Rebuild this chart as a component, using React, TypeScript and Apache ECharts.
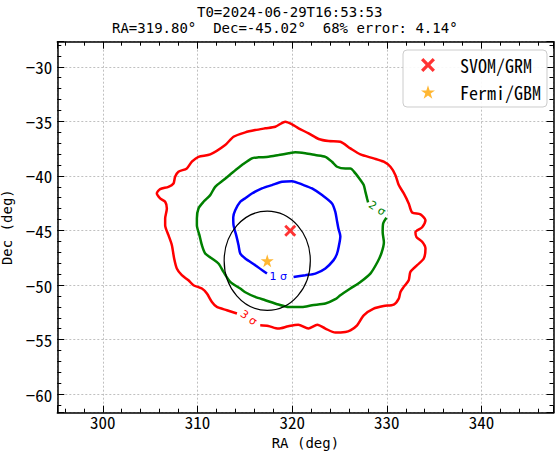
import React, { useEffect, useRef } from "react";
import * as echarts from "echarts";

const TITLE_LINE1 = "T0=2024-06-29T16:53:53";
const TITLE_LINE2 = "RA=319.80°  Dec=-45.02°  68% error: 4.14°";

const X_RANGE = [295.2, 347.6];
const Y_RANGE = [-61.7, -27.7];

const SVOM_POS: [number, number] = [319.8, -45.02];
const FERMI_POS: [number, number] = [317.37, -47.78];
const FERMI_RADIUS = 4.55;

// 1 sigma contour (blue)
const sigma1: [number, number][] = [
  [317.34, -48.95], [316.1, -48.18], [315.05, -47.57], [314.52, -47.11], [314.34, -46.35],
  [314.09, -45.43], [313.81, -44.51], [313.78, -43.78], [313.99, -43.14], [314.52, -42.37],
  [315.05, -42.04], [315.75, -41.61], [316.81, -41.15], [317.87, -40.84], [318.93, -40.54],
  [319.98, -40.48], [321.21, -40.84], [322.1, -41.15], [323.16, -41.76], [324.21, -42.52],
  [324.56, -43.29], [324.72, -44.05], [324.88, -44.79], [325.09, -45.52], [324.93, -46.44],
  [324.72, -47.17], [324.38, -47.72], [323.51, -48.48], [322.45, -48.95], [321.39, -49.1],
  [320.15, -49.26],
];

// 2 sigma contour (green)
const sigma2: [number, number][] = [
  [329.96, -43.83], [329.61, -44.36], [329.56, -45.16], [329.69, -46.08], [329.43, -47.08],
  [329.0, -47.91], [328.26, -48.95], [327.21, -49.72], [326.15, -50.32], [325.09, -50.94],
  [324.56, -51.3], [323.51, -51.7], [322.1, -51.85], [321.04, -52.01], [319.63, -52.01],
  [318.57, -51.79], [317.16, -51.39], [316.1, -51.09], [315.05, -50.66], [314.52, -50.32],
  [313.46, -49.72], [312.75, -48.8], [312.22, -48.03], [311.53, -47.57], [310.82, -47.11],
  [310.47, -46.35], [310.21, -45.43], [309.94, -44.51], [309.94, -43.9], [310.11, -42.98],
  [310.64, -42.37], [311.35, -41.76], [311.87, -41.0], [312.75, -40.38], [313.81, -39.62],
  [314.7, -39.01], [315.75, -38.39], [316.45, -38.3], [317.51, -38.25], [318.57, -38.09],
  [319.63, -37.93], [320.33, -37.84], [321.39, -37.93], [322.45, -38.09], [323.51, -38.25],
  [324.21, -38.7], [324.74, -39.16], [325.62, -39.33], [326.15, -39.33], [326.68, -39.77],
  [327.21, -40.38], [327.56, -40.84], [327.74, -41.46], [327.91, -42.06], [328.02, -42.43],
];

// 3 sigma contour (red)
const sigma3: [number, number][] = [
  [316.63, -53.69], [317.48, -53.75], [318.54, -53.99], [319.59, -53.78], [320.65, -53.64],
  [321.71, -53.99], [322.66, -53.64], [323.51, -53.99], [324.56, -54.36], [325.62, -54.3],
  [326.15, -54.15], [326.86, -53.69], [327.56, -52.77], [328.61, -52.16], [329.67, -51.92],
  [330.73, -51.79], [331.26, -51.24], [331.44, -50.63], [331.79, -50.17], [332.31, -49.56],
  [332.49, -48.8], [333.2, -48.18], [333.9, -47.57], [334.08, -46.65], [333.73, -46.04],
  [333.13, -45.61], [333.02, -45.15], [333.73, -44.7], [334.08, -44.05], [333.55, -43.53],
  [332.67, -43.35], [332.31, -42.52], [331.79, -41.6], [331.26, -40.84], [330.91, -39.93],
  [330.38, -39.16], [329.67, -38.7], [328.61, -38.39], [327.21, -38.03], [326.15, -37.48],
  [325.09, -36.87], [323.85, -36.81], [322.8, -36.62], [321.74, -36.1], [320.68, -35.64],
  [319.98, -35.27], [319.28, -35.04], [318.22, -35.49], [317.16, -35.64], [316.1, -35.8],
  [315.05, -36.01], [313.81, -36.41], [312.93, -37.17], [311.35, -38.03], [310.11, -38.25],
  [309.41, -38.7], [308.88, -39.31], [307.99, -39.62], [307.64, -40.08], [307.47, -40.69],
  [306.94, -41.0], [306.06, -41.21], [305.71, -41.6], [306.06, -42.06], [306.59, -42.37],
  [306.77, -42.98], [306.59, -43.9], [306.59, -44.51], [306.94, -45.43], [307.3, -46.35],
  [307.54, -47.57], [307.82, -48.48], [308.35, -49.1], [309.05, -49.56], [309.58, -50.02],
  [310.47, -50.32], [311.0, -50.78], [311.53, -51.55], [312.05, -52.01], [313.11, -52.31],
  [314.17, -52.61],
];

// contour labels: [RA, Dec, rotation deg]
const labelPos: [number, number, number][] = [
  [318.54, -49.24, 0],
  [328.97, -42.98, -33],
  [315.4, -53.0, -35],
];
const labelText = ["1 σ", "2 σ", "3 σ"];
const labelColor = ["#0000ff", "#008000", "#ff0000"];

const MONO = '"Noto Sans Mono CJK SC", "Liberation Mono", monospace';
const MONO2 = '"DejaVu Sans Mono", "Liberation Mono", monospace';

const X_PATH = "path://M2,0L6,4L10,0L12,2L8,6L12,10L10,12L6,8L2,12L0,10L4,6L0,2Z";
const STAR_PATH =
  "path://M50,0L61.2,34.5L97.6,34.5L68.2,55.9L79.4,90.5L50,69.1L20.6,90.5L31.8,55.9L2.4,34.5L38.8,34.5Z";

export default function App() {
  const ref = useRef<HTMLDivElement>(null);
  useEffect(() => {
    if (!ref.current) return;
    const chart = echarts.init(ref.current, null, { renderer: "svg" });
    const axisLine = { show: true, onZero: false, lineStyle: { color: "#000", width: 1.5 } };
    const tick = { show: true, inside: true, length: 7, lineStyle: { color: "#000", width: 1 } };
    const minor = { show: true, splitNumber: 5, length: 4, lineStyle: { color: "#000", width: 1 } };
    const split = { show: true, lineStyle: { color: "#b0b0b0", type: [2, 2], width: 0.8 } };
    const tickFont = { fontFamily: MONO, fontSize: 17, lineHeight: 14, color: "#000" };
    const minus = (v: number) => String(v).replace("-", "−");
    const titleStyle = { fontFamily: MONO2, fontSize: 14, lineHeight: 16, fontWeight: "normal", color: "#000" };
    const nameStyle = { fontFamily: MONO2, fontSize: 14, lineHeight: 16, color: "#000" };

    chart.setOption({
      animation: false,
      backgroundColor: "#fff",
      title: [
        { text: TITLE_LINE1, left: 197, top: 3.5, padding: 0, textStyle: titleStyle },
        { text: TITLE_LINE2, left: 112, top: 19.8, padding: 0, textStyle: titleStyle },
      ],
      grid: {
        left: 57.3, right: 1.5, top: 41.7, bottom: 42.3,
        containLabel: false, outerBoundsMode: "none",
      },
      xAxis: [
        {
          type: "value", min: X_RANGE[0], max: X_RANGE[1], position: "bottom",
          axisLine, axisTick: tick, minorTick: minor, splitLine: split,
          axisLabel: { ...tickFont, margin: 2, showMinLabel: false, showMaxLabel: false },
          name: "RA (deg)", nameLocation: "middle", nameGap: 22,
          nameTextStyle: nameStyle,
        },
        {
          type: "value", min: X_RANGE[0], max: X_RANGE[1], position: "top",
          axisLine, axisTick: tick, minorTick: minor, splitLine: { show: false },
          axisLabel: { show: false },
        },
      ],
      yAxis: [
        {
          type: "value", min: Y_RANGE[0], max: Y_RANGE[1], position: "left",
          axisLine, axisTick: tick, minorTick: minor, splitLine: split,
          axisLabel: { ...tickFont, margin: 5, showMinLabel: false, showMaxLabel: false, formatter: minus },
          name: "Dec (deg)", nameLocation: "middle", nameGap: 35,
          nameTextStyle: nameStyle,
        },
        {
          type: "value", min: Y_RANGE[0], max: Y_RANGE[1], position: "right",
          axisLine, axisTick: tick, minorTick: minor, splitLine: { show: false },
          axisLabel: { show: false },
        },
      ],
      legend: {
        orient: "vertical", left: 403, top: 50,
        padding: [6, 6, 6, 18], itemWidth: 14, itemHeight: 14, itemGap: 9,
        selectedMode: false,
        borderColor: "#cccccc", borderWidth: 1, borderRadius: 4,
        backgroundColor: "rgba(255,255,255,0.9)",
        textStyle: { fontFamily: MONO, fontSize: 18, lineHeight: 15, color: "#000", padding: [0, 0, 0, 20] },
        data: [
          { name: "SVOM/GRM", icon: X_PATH, itemStyle: { color: "#ff0000" } },
          { name: "Fermi/GBM", icon: STAR_PATH, itemStyle: { color: "#ffa500" } },
        ],
      },
      series: [
        {
          type: "line", name: "3sigma", data: sigma3, showSymbol: false, symbol: "none",
          smooth: 0.25, lineStyle: { color: "#ff0000", width: 2.5 }, silent: true, z: 3,
        },
        {
          type: "line", name: "2sigma", data: sigma2, showSymbol: false, symbol: "none",
          smooth: 0.25, lineStyle: { color: "#008000", width: 2.5 }, silent: true, z: 3,
        },
        {
          type: "line", name: "1sigma", data: sigma1, showSymbol: false, symbol: "none",
          smooth: 0.25, lineStyle: { color: "#0000ff", width: 2.5 }, silent: true, z: 3,
        },
        {
          type: "custom", name: "fermiCircle", silent: true, z: 4,
          data: [[FERMI_POS[0], FERMI_POS[1], FERMI_RADIUS]],
          encode: { x: 0, y: 1 },
          renderItem: (params: any, api: any) => {
            const c = api.coord([api.value(0), api.value(1)]);
            const s = api.size([api.value(2), api.value(2)]);
            return {
              type: "ellipse",
              shape: { cx: c[0], cy: c[1], rx: s[0], ry: s[1] },
              style: { fill: "none", stroke: "#000", lineWidth: 1.2 },
            };
          },
        },
        {
          type: "custom", name: "labels", silent: true, z: 5,
          data: labelPos,
          encode: { x: 0, y: 1 },
          renderItem: (params: any, api: any) => {
            const c = api.coord([api.value(0), api.value(1)]);
            const i = params.dataIndex;
            return {
              type: "text",
              x: c[0], y: c[1],
              rotation: (api.value(2) * Math.PI) / 180,
              style: {
                text: labelText[i], fill: labelColor[i], fontSize: 11,
                fontFamily: "DejaVu Sans", align: "center", verticalAlign: "middle",
              },
            };
          },
        },
        {
          type: "scatter", name: "SVOM/GRM", data: [SVOM_POS], symbol: X_PATH, symbolSize: 12,
          itemStyle: { color: "#ff0000" }, z: 6, silent: true,
        },
        {
          type: "scatter", name: "Fermi/GBM", data: [FERMI_POS], symbol: STAR_PATH, symbolSize: 13,
          itemStyle: { color: "#ffa500" }, z: 6, silent: true,
        },
      ],
    });
    return () => chart.dispose();
  }, []);
  return <div ref={ref} style={{ width: 555, height: 455, position: "absolute", left: 0, top: 0 }} />;
}
